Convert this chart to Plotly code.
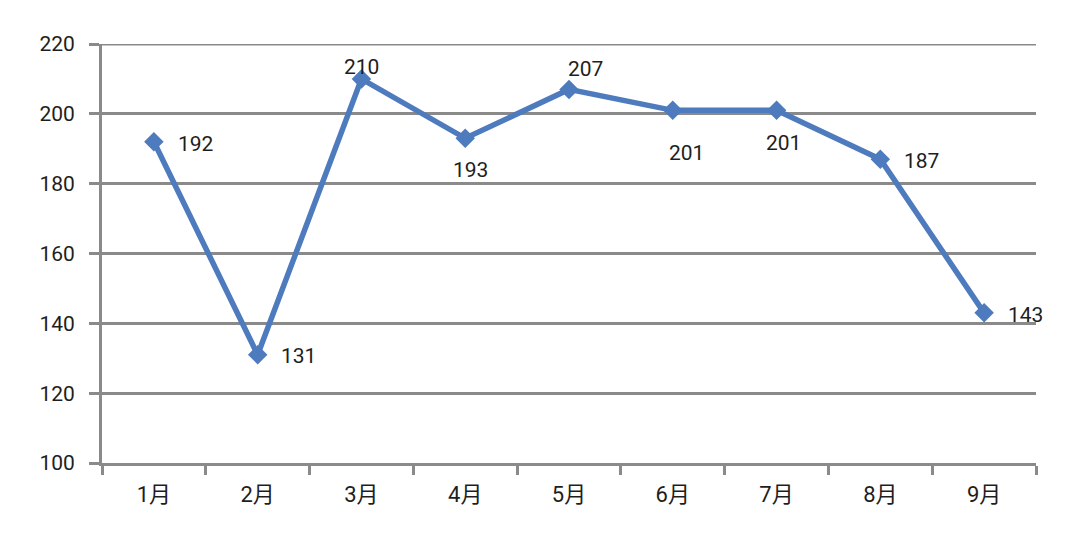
import plotly.graph_objects as go

months = ["1月", "2月", "3月", "4月", "5月", "6月", "7月", "8月", "9月"]
values = [192, 131, 210, 193, 207, 201, 201, 187, 143]
y_ticks = [100, 120, 140, 160, 180, 200, 220]

# label offsets in pixels (style only)
label_dx = [42, 41, 0, 5, 16, 14, 7, 41, 41]
label_dy = [-2, -1, 12, -32, 20, -43, -33, -2, -2]

line_color = "#4D7BBE"
grid_color = "#8A8A8A"
font_family = "Roboto, 'Noto Sans CJK SC', sans-serif"

fig = go.Figure()
fig.add_trace(go.Scatter(
    x=months, y=values, mode="lines+markers",
    line=dict(color=line_color, width=5.5),
    marker=dict(symbol="diamond", size=15, color=line_color),
    hoverinfo="x+y", showlegend=False,
))

for m, v, dx, dy in zip(months, values, label_dx, label_dy):
    fig.add_annotation(x=m, y=v, text=str(v), showarrow=False,
                       xshift=dx, yshift=dy,
                       font=dict(size=21, color="#1E1E1E", family=font_family))

# top gridline (plotly drops the gridline lying on the plot edge)
fig.add_shape(type="line", xref="paper", yref="y", x0=-0.0107, x1=1,
              y0=y_ticks[-1], y1=y_ticks[-1], line=dict(color=grid_color, width=3),
              layer="below")

fig.update_layout(
    width=1080, height=559,
    margin=dict(l=94, r=52, t=36, b=104),
    paper_bgcolor="white", plot_bgcolor="white",
    font=dict(family=font_family, size=21, color="#1E1E1E"),
)
fig.update_xaxes(
    type="category", range=[-0.5, 8.5],
    showgrid=False, showline=True, linecolor=grid_color, linewidth=3,
    ticks="outside", tickson="boundaries", ticklen=9, tickwidth=3, tickcolor=grid_color,
    ticklabelstandoff=10, tickfont=dict(size=22, color="#1E1E1E"),
)
fig.update_yaxes(
    range=[100, 220], tickvals=y_ticks,
    showgrid=True, gridcolor=grid_color, gridwidth=3,
    showline=True, linecolor=grid_color, linewidth=3,
    ticks="outside", ticklen=10, tickwidth=3, tickcolor=grid_color,
    ticklabelstandoff=10, zeroline=False, tickfont=dict(size=21, color="#1E1E1E"),
)

fig.write_html("out.html")
